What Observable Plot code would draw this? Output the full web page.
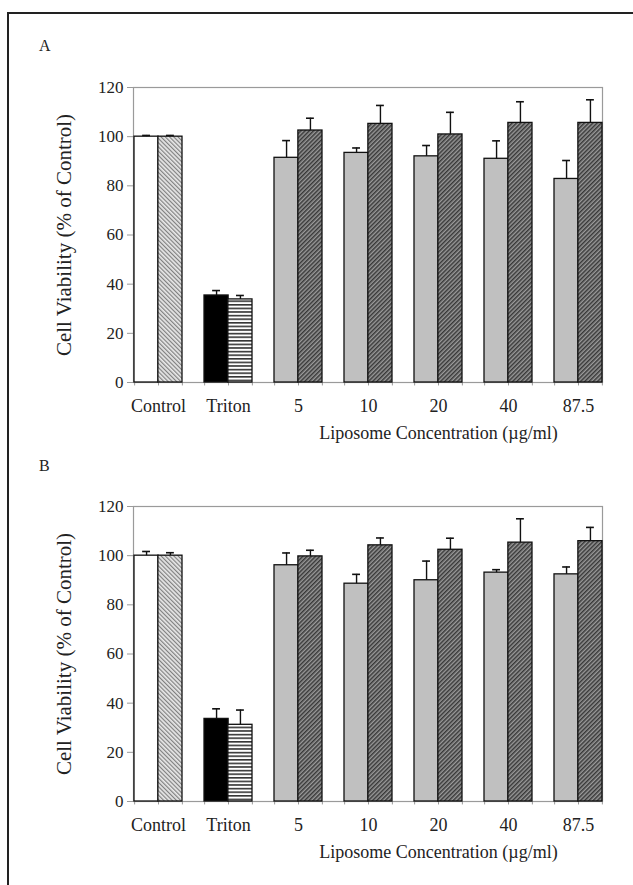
<!DOCTYPE html>
<html><head><meta charset="utf-8">
<script src="https://cdn.jsdelivr.net/npm/d3@7"></script>
<script src="https://cdn.jsdelivr.net/npm/@observablehq/plot@0.6"></script>
<style>
body{margin:0;background:#fff;font-family:"Liberation Serif","Times New Roman",serif;color:#222;}
#page{position:relative;width:633px;height:885px;overflow:hidden;background:#fff;}
#box{position:absolute;left:7px;top:12px;width:700px;height:1000px;border-left:2.5px solid #222;border-top:2.5px solid #222;}
.letter{position:absolute;left:39px;font-size:16px;}
.panel{position:absolute;left:0;}
</style></head><body>
<div id="page">
<div id="box"></div>
<svg width="0" height="0" style="position:absolute">
 <defs>
  <pattern id="hatchLight" patternUnits="userSpaceOnUse" width="3" height="3" patternTransform="rotate(-45)">
   <rect width="3" height="3" fill="#e8e8e8"/>
   <rect width="1.2" height="3" fill="#808080"/>
  </pattern>
  <pattern id="stripes" patternUnits="userSpaceOnUse" width="4" height="3.6">
   <rect width="4" height="3.6" fill="#ffffff"/>
   <rect width="4" height="1.6" fill="#333333"/>
  </pattern>
  <pattern id="hatchDark" patternUnits="userSpaceOnUse" width="3" height="3" patternTransform="rotate(45)">
   <rect width="3" height="3" fill="#999999"/>
   <rect width="1.5" height="3" fill="#383838"/>
  </pattern>
 </defs>
</svg>
<div class="letter" style="top:37px">A</div>
<div class="panel" id="pA" style="top:70px"></div>
<div class="letter" style="top:457px">B</div>
<div class="panel" id="pB" style="top:489px"></div>
</div>
<script>
// ---- data ----
const categories = ["Control", "Triton", "5", "10", "20", "40", "87.5"];
const yTicks = [0, 20, 40, 60, 80, 100, 120];
const yLabel = "Cell Viability (% of Control)";
const xTitle = "Liposome Concentration (\u00b5g/ml)";
const xTitleAt = "20";

const panelA_first     = [100, 35.4, 91.4, 93.4, 92.0, 91.0, 82.8];
const panelA_firstErr  = [0.5, 2.0, 7.0, 2.0, 4.4, 7.3, 7.5];
const panelA_second    = [100, 33.8, 102.5, 105.2, 100.9, 105.6, 105.6];
const panelA_secondErr = [0.5, 1.6, 5.0, 7.5, 9.0, 8.6, 9.4];

const panelB_first     = [100, 33.6, 96.1, 88.6, 90.0, 93.1, 92.4];
const panelB_firstErr  = [1.7, 4.1, 5.0, 3.8, 7.8, 1.2, 3.0];
const panelB_second    = [100, 31.2, 99.7, 104.2, 102.4, 105.3, 105.9];
const panelB_secondErr = [1.2, 6.0, 2.5, 3.0, 4.7, 9.7, 5.6];

const firstFill  = {Control: "white", Triton: "black", other: "#c0c0c0"};
const secondFill = {Control: "url(#hatchLight)", Triton: "url(#stripes)", other: "url(#hatchDark)"};

// ---- layout ----
const W = 633, H = 375, ML = 133, MR = 31, MT = 17, MB = 63;
const xOpts = {domain: categories, paddingInner: 0.32, paddingOuter: 0, align: 0.5};
const xs = Plot.scale({x: {type: "band", ...xOpts, range: [ML, W - MR]}});
const half = xs.bandwidth / 2;

function rowsOf(vals, errs, fills) {
  return categories.map((c, i) => ({cat: c, v: vals[i], e: errs[i], fill: fills[c] ?? fills.other}));
}

function panel(first, firstErr, second, secondErr) {
  const r1 = rowsOf(first, firstErr, firstFill);
  const r2 = rowsOf(second, secondErr, secondFill);
  const ink = "#111";
  const capW = 3.8;
  return Plot.plot({
    width: W, height: H,
    marginLeft: ML, marginRight: MR, marginTop: MT, marginBottom: MB,
    style: {fontFamily: "'Liberation Serif','Times New Roman',serif", fontSize: "17px", color: "#222", background: "transparent"},
    x: {type: "band", ...xOpts, axis: null},
    y: {domain: [0, 120], axis: null},
    color: {type: "identity"},
    marks: [
      Plot.frame({stroke: "#9a9a9a", strokeWidth: 1.2}),
      Plot.axisY(yTicks, {tickSize: 6, tickPadding: 4, stroke: "#9a9a9a", fontSize: 17, label: null}),
      Plot.axisX({tickSize: 0, tickPadding: 17, fontSize: 18, label: null}),
      Plot.ruleX(categories, {x: d => d, y1: 0, y2: -1.4, dx: -half, stroke: "#9a9a9a"}),
      Plot.ruleX(categories, {x: d => d, y1: 0, y2: -1.4, stroke: "#9a9a9a"}),
      Plot.ruleX(categories, {x: d => d, y1: 0, y2: -1.4, dx: half, stroke: "#9a9a9a"}),
      Plot.barY(r1, {x: "cat", y: "v", fill: "fill", stroke: ink, strokeWidth: 1.3, insetRight: half}),
      Plot.barY(r2, {x: "cat", y: "v", fill: "fill", stroke: ink, strokeWidth: 1.3, insetLeft: half}),
      Plot.ruleX(r1, {x: "cat", y1: "v", y2: d => d.v + d.e, dx: -half / 2, stroke: ink, strokeWidth: 1.4}),
      Plot.ruleX(r2, {x: "cat", y1: "v", y2: d => d.v + d.e, dx: half / 2, stroke: ink, strokeWidth: 1.4}),
      Plot.tickY(r1, {x: "cat", y: d => d.v + d.e, insetLeft: half / 2 - capW, insetRight: half * 1.5 - capW, stroke: ink, strokeWidth: 1.6}),
      Plot.tickY(r2, {x: "cat", y: d => d.v + d.e, insetLeft: half * 1.5 - capW, insetRight: half / 2 - capW, stroke: ink, strokeWidth: 1.6}),
      Plot.text([yLabel], {text: d => d, frameAnchor: "left", textAnchor: "middle", rotate: -90, dx: -69, fontSize: 21, fill: "#222"}),
      Plot.text([xTitle], {text: d => d, x: () => xTitleAt, frameAnchor: "bottom", dy: 56, fontSize: 18, fill: "#222"})
    ]
  });
}

document.getElementById("pA").append(panel(panelA_first, panelA_firstErr, panelA_second, panelA_secondErr));
document.getElementById("pB").append(panel(panelB_first, panelB_firstErr, panelB_second, panelB_secondErr));
</script>
</body></html>
